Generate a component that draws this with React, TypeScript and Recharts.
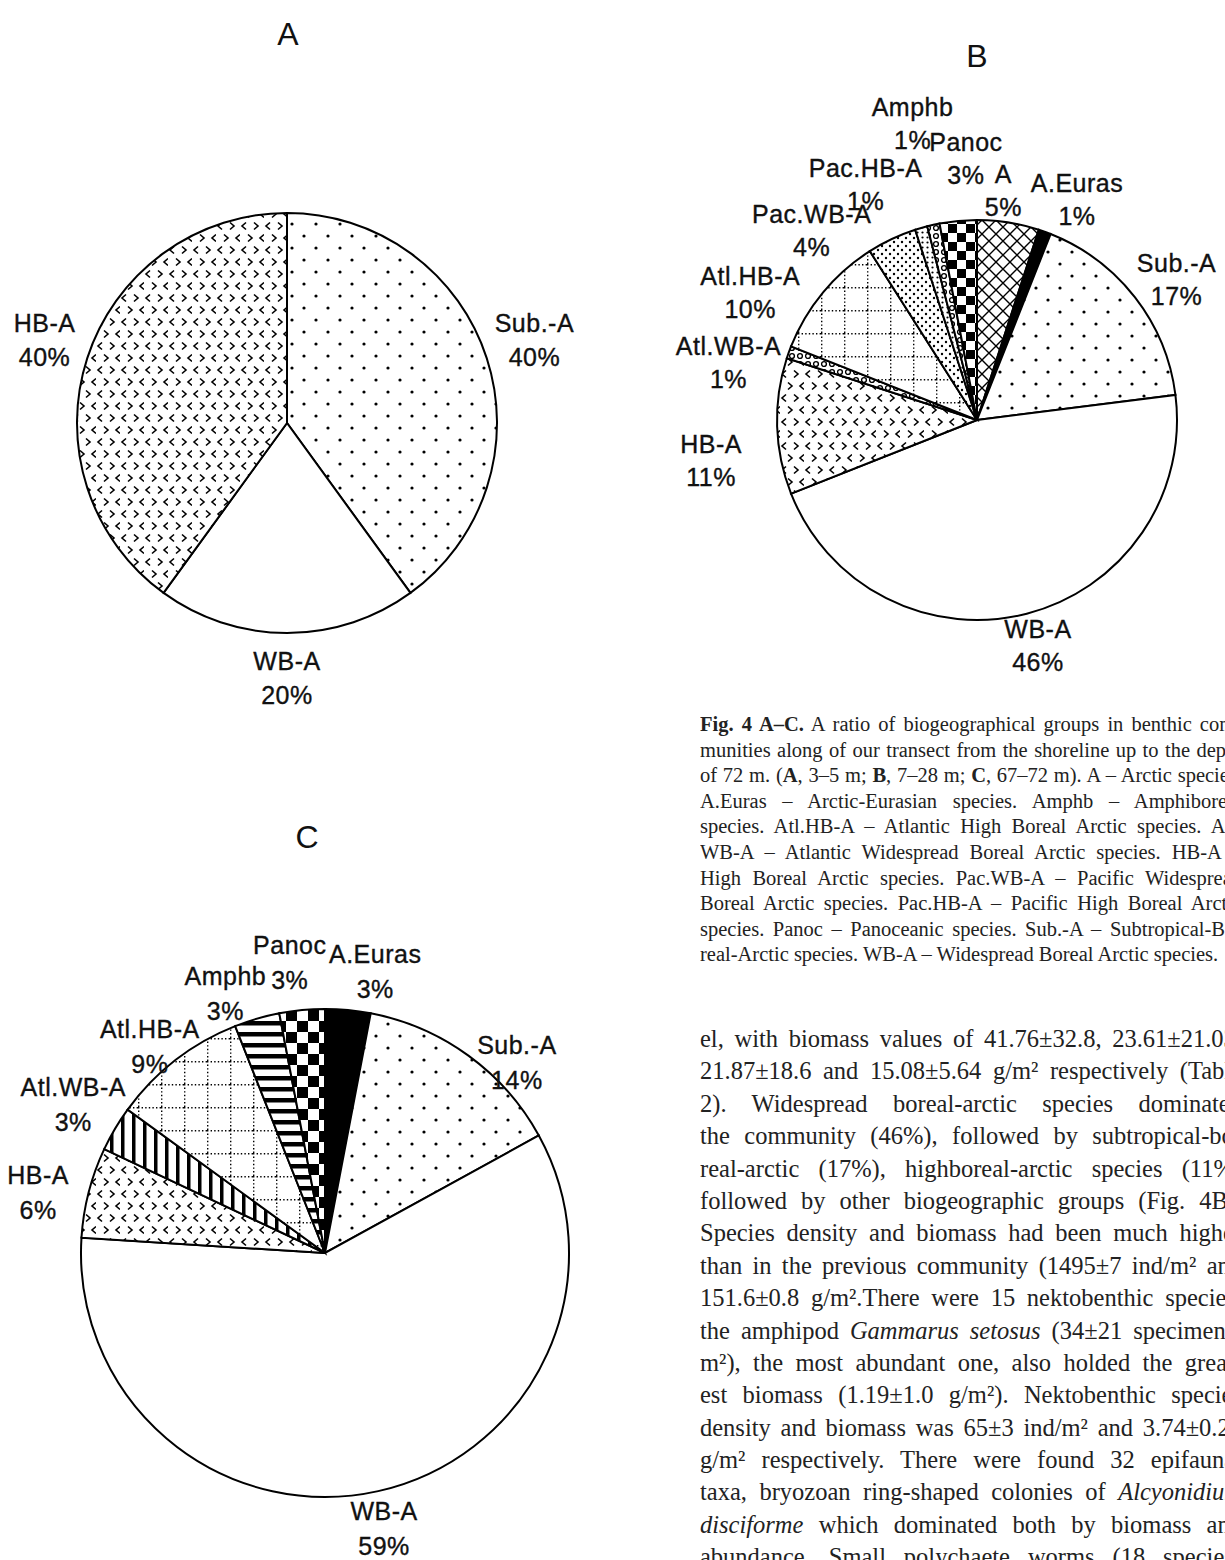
import React from 'react';
import { PieChart, Pie, Cell } from 'recharts';

// ---------- DATA ----------
const namesA = ['Sub.-A', 'WB-A', 'HB-A'];
const valuesA = [40, 20, 40];

const namesB = ['A', 'A.Euras', 'Sub.-A', 'WB-A', 'HB-A', 'Atl.WB-A', 'Atl.HB-A', 'Pac.WB-A', 'Pac.HB-A', 'Amphb', 'Panoc'];
const valuesB = [5, 1, 17, 46, 11, 1, 10, 4, 1, 1, 3];

const namesC = ['A.Euras', 'Sub.-A', 'WB-A', 'HB-A', 'Atl.WB-A', 'Atl.HB-A', 'Amphb', 'Panoc'];
const valuesC = [3, 14, 59, 6, 3, 9, 3, 3];

const titles = ['A', 'B', 'C'];

const captionLines: React.ReactNode[] = [
  <><b>Fig. 4 A–C.</b> A ratio of biogeographical groups in benthic com-</>,
  <>munities along of our transect from the shoreline up to the depth</>,
  <>of 72 m. (<b>A</b>, 3–5 m; <b>B</b>, 7–28 m; <b>C</b>, 67–72 m). A – Arctic species.</>,
  <>A.Euras – Arctic-Eurasian species. Amphb – Amphiboreal</>,
  <>species. Atl.HB-A – Atlantic High Boreal Arctic species. Atl.</>,
  <>WB-A – Atlantic Widespread Boreal Arctic species. HB-A –</>,
  <>High Boreal Arctic species. Pac.WB-A – Pacific Widespread</>,
  <>Boreal Arctic species. Pac.HB-A – Pacific High Boreal Arctic</>,
  <>species. Panoc – Panoceanic species. Sub.-A – Subtropical-Bo-</>,
  <>real-Arctic species. WB-A – Widespread Boreal Arctic species.</>,
];

const bodyLines: React.ReactNode[] = [
  <>el, with biomass values of 41.76±32.8, 23.61±21.03,</>,
  <>21.87±18.6 and 15.08±5.64 g/m² respectively (Table</>,
  <>2). Widespread boreal-arctic species dominated</>,
  <>the community (46%), followed by subtropical-bo-</>,
  <>real-arctic (17%), highboreal-arctic species (11%)</>,
  <>followed by other biogeographic groups (Fig. 4B).</>,
  <>Species density and biomass had been much higher</>,
  <>than in the previous community (1495±7 ind/m² and</>,
  <>151.6±0.8 g/m².There were 15 nektobenthic species,</>,
  <>the amphipod <i>Gammarus setosus</i> (34±21 specimens/</>,
  <>m²), the most abundant one, also holded the great-</>,
  <>est biomass (1.19±1.0 g/m²). Nektobenthic species</>,
  <>density and biomass was 65±3 ind/m² and 3.74±0.22</>,
  <>g/m² respectively. There were found 32 epifaunal</>,
  <>taxa, bryozoan ring-shaped colonies of <i>Alcyonidium</i></>,
  <><i>disciforme</i> which dominated both by biomass and</>,
  <>abundance. Small polychaete worms (18 species)</>,
];

const toRows = (names: string[], values: number[]) => names.map((name, i) => ({ name, value: values[i] }));
const dataA = toRows(namesA, valuesA);
const dataB = toRows(namesB, valuesB);
const dataC = toRows(namesC, valuesC);

// ---------- STYLE ----------
const fillA: Record<string, string> = { 'Sub.-A': 'url(#pDots)', 'WB-A': '#fff', 'HB-A': 'url(#pChev)' };
const fillB: Record<string, string> = {
  A: 'url(#pCross)', 'A.Euras': '#000', 'Sub.-A': 'url(#pDots)', 'WB-A': '#fff', 'HB-A': 'url(#pChev)',
  'Atl.WB-A': 'url(#pRing)', 'Atl.HB-A': 'url(#pGrid)', 'Pac.WB-A': 'url(#pDense)', 'Pac.HB-A': 'url(#pFine)',
  Amphb: 'url(#pRing)', Panoc: 'url(#pCheck)',
};
const fillC: Record<string, string> = {
  'A.Euras': '#000', 'Sub.-A': 'url(#pDots)', 'WB-A': '#fff', 'HB-A': 'url(#pChev)', 'Atl.WB-A': 'url(#pVStripe)',
  'Atl.HB-A': 'url(#pGrid)', Amphb: 'url(#pHStripe)', Panoc: 'url(#pCheckC)',
};

// label nudges (label layout only)
const nudgeA: Record<string, [number, number]> = { 'Sub.-A': [3, -4], 'HB-A': [2, -4], 'WB-A': [0, -2] };
const nudgeB: Record<string, [number, number]> = {
  A: [-12, 12], 'A.Euras': [17, 10], 'Sub.-A': [6, 10], 'WB-A': [0, -12], 'HB-A': [-21, 33],
  'Atl.WB-A': [-18, 25], 'Atl.HB-A': [-38, 29], 'Pac.WB-A': [-61, 32], 'Pac.HB-A': [-43, 0],
  Amphb: [-11, -57], Panoc: [12, -18],
};
const nudgeC: Record<string, [number, number]> = {
  'A.Euras': [23, 6], 'Sub.-A': [22, 43], 'WB-A': [-4, -7], 'HB-A': [-7, 11], 'Atl.WB-A': [-3, -1],
  'Atl.HB-A': [2, 22], Amphb: [-19, 18], Panoc: [-8, -3],
};

const SANS = "'Liberation Sans', Arial, Helvetica, sans-serif";
const SERIF = "'Liberation Serif', 'Times New Roman', serif";
const RAD = Math.PI / 180;

function makeLabel(nudge: Record<string, [number, number]>, off: number, pitch: number, fs: number) {
  return (p: any) => {
    const name: string = p.name ?? p.payload?.name;
    const value = p.value ?? p.payload?.value;
    const R = Number(p.outerRadius) + off;
    const [dx, dy] = nudge[name] || [0, 0];
    const x = Number(p.cx) + R * Math.cos(-p.midAngle * RAD) + dx;
    const y = Number(p.cy) + R * Math.sin(-p.midAngle * RAD) + dy;
    const shift = fs * 0.36;
    return (
      <text key={name} textAnchor="middle" fontFamily={SANS} fontSize={fs} fill="#111"
        stroke="#111" strokeWidth={0.35} letterSpacing={0.5}>
        <tspan x={x} y={y - pitch / 2 + shift}>{name}</tspan>
        <tspan x={x} y={y + pitch / 2 + shift}>{`${value}%`}</tspan>
      </text>
    );
  };
}

const Patterns = () => (
  <svg width={0} height={0} style={{ position: 'absolute', left: 0, top: 0 }}>
    <defs>
      <pattern id="pDots" width={24} height={24} patternUnits="userSpaceOnUse">
        <rect width={24} height={24} fill="#fff" />
        <circle cx={4} cy={4} r={1.6} fill="#000" />
        <circle cx={16} cy={16} r={1.6} fill="#000" />
      </pattern>
      <pattern id="pChev" width={24} height={24} patternUnits="userSpaceOnUse">
        <rect width={24} height={24} fill="#fff" />
        <path d="M6 2.5 L2 6 L6 9.5 M14 2.5 L18 6 L14 9.5 M8 14.5 L12 18 L8 21.5 M24 14.5 L20 18 L24 21.5"
          stroke="#000" strokeWidth={1.6} fill="none" />
      </pattern>
      <pattern id="pCross" width={14} height={14} patternUnits="userSpaceOnUse">
        <rect width={14} height={14} fill="#fff" />
        <path d="M0 0 L14 14 M14 0 L0 14" stroke="#000" strokeWidth={1.4} />
      </pattern>
      <pattern id="pCheck" width={18} height={18} patternUnits="userSpaceOnUse">
        <rect width={18} height={18} fill="#fff" />
        <rect x={0} y={0} width={9} height={9} fill="#000" />
        <rect x={9} y={9} width={9} height={9} fill="#000" />
      </pattern>
      <pattern id="pCheckC" width={22} height={22} patternUnits="userSpaceOnUse">
        <rect width={22} height={22} fill="#fff" />
        <rect x={0} y={0} width={11} height={11} fill="#000" />
        <rect x={11} y={11} width={11} height={11} fill="#000" />
      </pattern>
      <pattern id="pGrid" width={23} height={23} patternUnits="userSpaceOnUse">
        <rect width={23} height={23} fill="#fff" />
        <path d="M0 0.7 L23 0.7 M0.7 0 L0.7 23" stroke="#000" strokeWidth={1.4} strokeDasharray="1.4 2.2" />
      </pattern>
      <pattern id="pDense" width={8} height={8} patternUnits="userSpaceOnUse">
        <rect width={8} height={8} fill="#fff" />
        <circle cx={2} cy={2} r={1.2} fill="#000" />
        <circle cx={6} cy={6} r={1.2} fill="#000" />
      </pattern>
      <pattern id="pFine" width={5} height={5} patternUnits="userSpaceOnUse">
        <rect width={5} height={5} fill="#fff" />
        <circle cx={2.5} cy={2.5} r={1.1} fill="#000" />
      </pattern>
      <pattern id="pRing" width={8} height={8} patternUnits="userSpaceOnUse">
        <rect width={8} height={8} fill="#fff" />
        <circle cx={4} cy={4} r={2.4} stroke="#000" strokeWidth={1.4} fill="none" />
      </pattern>
      <pattern id="pVStripe" width={11} height={11} patternUnits="userSpaceOnUse">
        <rect width={11} height={11} fill="#fff" />
        <rect x={0} y={0} width={3.5} height={11} fill="#000" />
      </pattern>
      <pattern id="pHStripe" width={11} height={11} patternUnits="userSpaceOnUse">
        <rect width={11} height={11} fill="#fff" />
        <rect x={0} y={0} width={11} height={4.5} fill="#000" />
      </pattern>
    </defs>
  </svg>
);

type PieProps = {
  data: { name: string; value: number }[];
  fills: Record<string, string>;
  left: number; top: number; width: number; height: number;
  cx: number; cy: number; r: number;
  label: (p: any) => React.ReactNode;
};

const PatternPie = ({ data, fills, left, top, width, height, cx, cy, r, label }: PieProps) => (
  <div style={{ position: 'absolute', left, top, width, height }}>
    <PieChart width={width} height={height} margin={{ top: 0, right: 0, bottom: 0, left: 0 }}>
      <Pie
        data={data}
        dataKey="value"
        nameKey="name"
        cx={cx}
        cy={cy}
        outerRadius={r}
        startAngle={90}
        endAngle={-270}
        stroke="#000"
        strokeWidth={2}
        isAnimationActive={false}
        labelLine={false}
        label={label}
      >
        {data.map((d) => (
          <Cell key={d.name} fill={fills[d.name]} stroke="#000" strokeWidth={2} />
        ))}
      </Pie>
    </PieChart>
  </div>
);

const Title = ({ text, x, y }: { text: string; x: number; y: number }) => (
  <div style={{
    position: 'absolute', left: x - 50, top: y - 16, width: 100, height: 32, lineHeight: '32px',
    textAlign: 'center', fontFamily: SANS, fontSize: 32, color: '#111',
  }}>{text}</div>
);

const TextBlock = ({ lines, left, top, width, fs, pitch, lastLeft }: {
  lines: React.ReactNode[]; left: number; top: number; width: number; fs: number; pitch: number; lastLeft?: boolean;
}) => (
  <div style={{ position: 'absolute', left, top, width, fontFamily: SERIF, fontSize: fs, color: '#222' }}>
    {lines.map((ln, i) => {
      const isLast = lastLeft && i === lines.length - 1;
      return (
        <div key={i} style={{
          height: pitch, lineHeight: `${pitch}px`, overflow: 'hidden',
          textAlign: isLast ? 'left' : 'justify', textAlignLast: isLast ? 'left' : 'justify',
        } as React.CSSProperties}>{ln}</div>
      );
    })}
  </div>
);

export default function App() {
  return (
    <div style={{ position: 'absolute', left: 0, top: 0, width: 1225, height: 1560, overflow: 'hidden', background: '#fff' }}>
      <Patterns />
      <Title text={titles[0]} x={288} y={34} />
      <Title text={titles[1]} x={977} y={56} />
      <Title text={titles[2]} x={307} y={837} />

      <PatternPie data={dataA} fills={fillA} left={0} top={100} width={620} height={620}
        cx={287} cy={323} r={210} label={makeLabel(nudgeA, 47, 34, 25)} />
      <PatternPie data={dataB} fills={fillB} left={660} top={80} width={565} height={620}
        cx={317} cy={340} r={200} label={makeLabel(nudgeB, 45, 33, 25)} />
      <PatternPie data={dataC} fills={fillC} left={0} top={900} width={640} height={660}
        cx={325} cy={353} r={244} label={makeLabel(nudgeC, 45, 35, 25)} />

      <TextBlock lines={captionLines} left={700} top={712} width={542} fs={20.5} pitch={25.6} lastLeft />
      <TextBlock lines={bodyLines} left={700} top={1023} width={542} fs={24.5} pitch={32.4} />
    </div>
  );
}
